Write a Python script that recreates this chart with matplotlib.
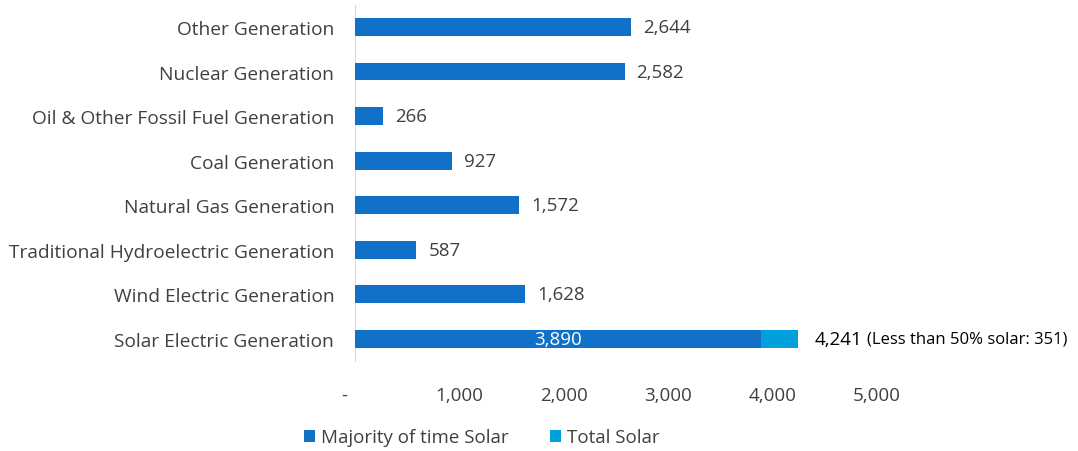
import matplotlib.pyplot as plt

plt.rcParams['font.family'] = ['Open Sans', 'DejaVu Sans']

categories = ['Solar Electric Generation', 'Wind Electric Generation',
              'Traditional Hydroelectric Generation', 'Natural Gas Generation',
              'Coal Generation', 'Oil & Other Fossil Fuel Generation',
              'Nuclear Generation', 'Other Generation']
majority = [3890, 1628, 587, 1572, 927, 266, 2582, 2644]
total_solar = [4241, 0, 0, 0, 0, 0, 0, 0]
less_than_half = 351
xticks = [0, 1000, 2000, 3000, 4000, 5000]
xticklabels = ['-    ', '1,000', '2,000', '3,000', '4,000', '5,000']

dark = '#1170C8'
light = '#00A0DC'
grey = '#404040'

fig = plt.figure(figsize=(10.78, 4.52), dpi=100)
ax = fig.add_axes([0.3293, 0.1985, 0.4842, 0.789])

y = range(len(categories))
ax.barh(y, total_solar, height=0.4, color=light, label='Total Solar', zorder=2)
ax.barh(y, majority, height=0.4, color=dark, label='Majority of time Solar', zorder=3)

# value labels
for i, v in enumerate(majority):
    if i == 0:
        ax.text(v / 2, i, f'{v:,}', color='white', ha='center', va='center',
                fontsize=13.5, zorder=4)
    else:
        ax.text(v + 115, i, f'{v:,}', color=grey, ha='left', va='center', fontsize=13.5)
ax.annotate(f'{total_solar[0]:,}', (total_solar[0], 0), xytext=(12, 0),
            textcoords='offset points', ha='left', va='center', fontsize=13.5, color='black')
ax.annotate(f'(Less than 50% solar: {less_than_half})', (total_solar[0], 0), xytext=(50, 0),
            textcoords='offset points', ha='left', va='center', fontsize=12, color='black')

ax.set_xlim(0, 5000)
ax.set_ylim(-0.5, len(categories) - 0.5)
ax.set_xticks(xticks)
ax.set_xticklabels(xticklabels)
ax.set_yticks(list(y))
ax.set_yticklabels(categories)
ax.tick_params(axis='x', length=0, pad=18, labelsize=13.5, labelcolor=grey)
ax.tick_params(axis='y', length=0, pad=15, labelsize=13.8, labelcolor=grey)
for s in ['top', 'right', 'bottom']:
    ax.spines[s].set_visible(False)
ax.spines['left'].set_color('#D9D9D9')

handles, labels = ax.get_legend_handles_labels()
fig.legend(handles[::-1], labels[::-1], loc='center', bbox_to_anchor=(0.447, 0.03), ncol=2,
           frameon=False, fontsize=13.5, labelcolor=grey, handlelength=0.6,
           handleheight=0.6, handletextpad=0.3, columnspacing=2.2)

fig.savefig('out.png', dpi=100)
